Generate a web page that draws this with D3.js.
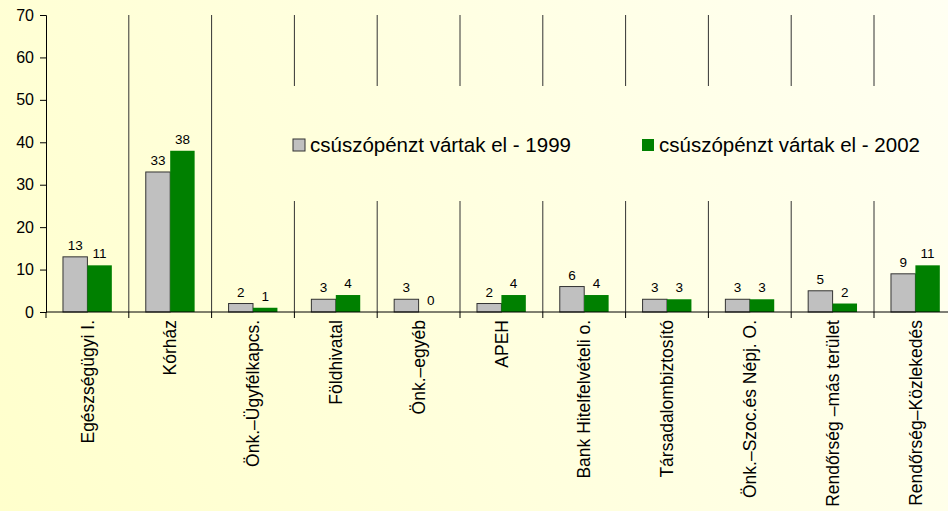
<!DOCTYPE html>
<html>
<head>
<meta charset="utf-8">
<script src="https://cdn.jsdelivr.net/npm/d3@7"></script>
<style>
html,body{margin:0;padding:0;overflow:hidden;}
svg{display:block;font-family:"Liberation Sans",Arial,sans-serif;}
</style>
</head>
<body>
<script>
const categories = ["Egészségügyi I.","Kórház","Önk.–Ügyfélkapcs.","Földhivatal","Önk.–egyéb","APEH","Bank Hitelfelvételi o.","Társadalombiztosító","Önk.–Szoc.és Népj. O.","Rendőrség –más terület","Rendőrség–Közlekedés"];
const seriesNames = ["csúszópénzt vártak el - 1999","csúszópénzt vártak el - 2002"];
const values1999 = [13,33,2,3,3,2,6,3,3,5,9];
const values2002 = [11,38,1,4,0,4,4,3,3,2,11];
const yTicks = [0,10,20,30,40,50,60,70];
const colors = ["#c0c0c0","#008000"];

const W = 948, H = 511;
const mLeft = 46, mTop = 15, mBottom = 312;
const band = 82.8;

const svg = d3.select("body").append("svg").attr("width", W).attr("height", H);
const defs = svg.append("defs");
const grad = defs.append("linearGradient").attr("id","bg")
  .attr("gradientUnits","userSpaceOnUse")
  .attr("x1",0).attr("y1",H).attr("x2",W).attr("y2",0);
grad.append("stop").attr("offset","0%").attr("stop-color","#ffffcc");
grad.append("stop").attr("offset","100%").attr("stop-color","#fffff2");
svg.append("rect").attr("width",W).attr("height",H).attr("fill","url(#bg)");

const x0 = d3.scaleBand().domain(categories).range([mLeft, mLeft + band*categories.length]).padding(0);
const bw = x0.bandwidth();
const x1 = d3.scaleBand().domain([0,1]).range([0.205*bw, 0.795*bw]).padding(0);
const y = d3.scaleLinear().domain([0,70]).range([mBottom, mTop]);

// separators
svg.append("g").selectAll("line").data(categories.slice(1)).join("line")
  .attr("x1", d => x0(d)).attr("x2", d => x0(d))
  .attr("y1", y(70)).attr("y2", y(0))
  .attr("stroke","#333").attr("stroke-width",1);

// legend box covering separators
svg.append("rect").attr("x",283).attr("y",86).attr("width",W-283).attr("height",115).attr("fill","url(#bg)");

// bars
const data = categories.map((c,i)=>({c, v:[values1999[i], values2002[i]]}));
const g = svg.append("g");
const cg = g.selectAll("g").data(data).join("g").attr("transform", d=>`translate(${x0(d.c)},0)`);
cg.selectAll("rect").data(d=>d.v.map((v,k)=>({v,k}))).join("rect")
  .attr("x", d=>x1(d.k)).attr("width", x1.bandwidth())
  .attr("y", d=>y(d.v)).attr("height", d=>y(0)-y(d.v))
  .attr("fill", d=>colors[d.k])
  .attr("stroke", d=>d.k===0 ? "#333" : "none").attr("stroke-width",1);
cg.selectAll("text").data(d=>d.v.map((v,k)=>({v,k}))).join("text")
  .attr("x", d=>x1(d.k)+x1.bandwidth()/2).attr("y", d=>y(d.v)-7)
  .attr("text-anchor","middle").attr("font-size","13.5px").attr("fill","#000")
  .text(d=>d.v);

// y axis
const yAxis = d3.axisLeft(y).tickValues(yTicks).tickSize(6).tickPadding(6);
const ya = svg.append("g").attr("transform",`translate(${mLeft},0)`).call(yAxis);
ya.selectAll("text").attr("font-size","16px").attr("fill","#000").attr("font-family","Liberation Sans, Arial, sans-serif");
ya.select(".domain").attr("stroke","#000");
ya.selectAll(".tick line").attr("stroke","#000");

// x axis line and ticks at boundaries
svg.append("line").attr("x1",mLeft).attr("x2",W).attr("y1",y(0)).attr("y2",y(0)).attr("stroke","#000");
svg.append("g").selectAll("line").data(categories).join("line")
  .attr("x1", d=>x0(d)).attr("x2", d=>x0(d)).attr("y1", y(0)).attr("y2", y(0)+6)
  .attr("stroke","#000");

// category labels
svg.append("g").selectAll("text").data(categories).join("text")
  .attr("transform", d=>`translate(${x0(d)+bw/2},${y(0)+8}) rotate(-90)`)
  .attr("text-anchor","end").attr("dy","0.35em")
  .attr("font-size","17.5px").attr("fill","#000")
  .text(d=>d);

// legend
const legX = [293, 642];
const leg = svg.append("g").selectAll("g").data(seriesNames).join("g")
  .attr("transform",(d,i)=>`translate(${legX[i]},139)`);
leg.append("rect").attr("width",12).attr("height",12)
  .attr("fill",(d,i)=>colors[i]).attr("stroke",(d,i)=>i===0?"#333":"none");
leg.append("text").attr("x",17).attr("y",6).attr("dy","0.36em")
  .attr("font-size","20.5px").attr("fill","#000").text(d=>d);
</script>
</body>
</html>
